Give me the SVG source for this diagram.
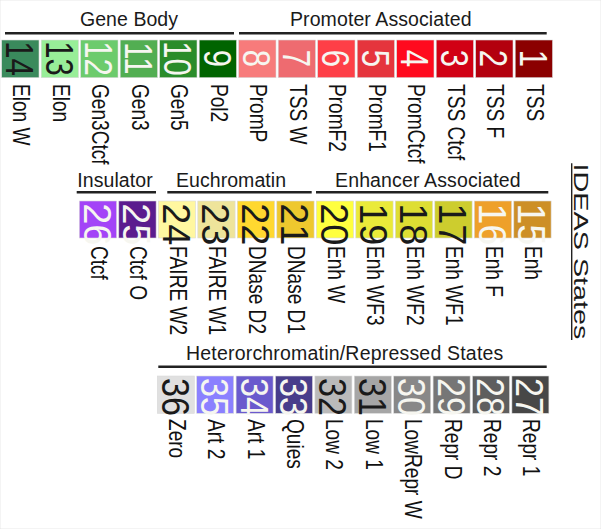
<svg xmlns="http://www.w3.org/2000/svg" width="601" height="529" viewBox="0 0 601 529">
<style>
text{font-family:"Liberation Sans",Arial,Helvetica,sans-serif}
.t{font-size:19.5px;fill:#1a1a1a}
.bar{stroke:#222;stroke-width:2.6;fill:none}
.n{font-size:38px;text-anchor:middle}
.l{font-size:23px;fill:#111}
.w{fill:#f6f6f0}
.k{fill:#1a1a1a}
rect{stroke:#d9d9d9;stroke-width:0.6}
</style>
<rect x="0" y="0" width="601" height="529" fill="#fff" stroke="none"/>
<g id="categories">
<g id="cat-gene-body"><text class="t" x="80" y="25.5" textLength="98">Gene Body</text><line class="bar" x1="5" y1="33.3" x2="234" y2="33.3"/></g>
<g id="cat-promoter"><text class="t" x="290" y="25.5" textLength="181.5">Promoter Associated</text><line class="bar" x1="239" y1="33.3" x2="546.7" y2="33.3"/></g>
<g id="cat-insulator"><text class="t" x="77.3" y="186.5" textLength="75.4">Insulator</text><line class="bar" x1="76.7" y1="192.3" x2="156" y2="192.3"/></g>
<g id="cat-euchromatin"><text class="t" x="176" y="186.5" textLength="110">Euchromatin</text><line class="bar" x1="167.3" y1="192.3" x2="311.7" y2="192.3"/></g>
<g id="cat-enhancer"><text class="t" x="335" y="186.5" textLength="185.7">Enhancer Associated</text><line class="bar" x1="316" y1="192.3" x2="548.3" y2="192.3"/></g>
<g id="cat-hetero"><text class="t" x="186" y="360" textLength="317.3">Heterorchromatin/Repressed States</text><line class="bar" x1="158.3" y1="366.7" x2="546.7" y2="366.7"/></g>
</g>
<g id="title-ideas">
<text class="t" transform="translate(574,163.5) rotate(90)" style="font-size:21px" textLength="176" lengthAdjust="spacingAndGlyphs">IDEAS States</text>
<line x1="571.7" y1="163.3" x2="571.7" y2="340" stroke="#222" stroke-width="1.4"/>
</g>
<g id="connectors"></g>
<!-- top row -->
<g id="s14"><rect x="1.7" y="40" width="37.3" height="37.7" fill="#3A8A5C"/><text class="n k" transform="translate(6.35,58.5) rotate(90) scale(0.82,1)">14</text><text class="l" transform="translate(13.35,84) rotate(90) scale(0.83,1)">Elon W</text></g>
<g id="s13"><rect x="41.2" y="40" width="37.3" height="37.7" fill="#98EE98"/><text class="n k" transform="translate(45.85,58.5) rotate(90) scale(0.82,1)">13</text><text class="l" transform="translate(52.85,84) rotate(90) scale(0.83,1)">Elon</text></g>
<g id="s12"><rect x="80.7" y="40" width="37.3" height="37.7" fill="#6CCB6C"/><text class="n w" transform="translate(85.35,58.5) rotate(90) scale(0.82,1)">12</text><text class="l" transform="translate(92.35,84) rotate(90) scale(0.83,1)">Gen3Ctcf</text></g>
<g id="s11"><rect x="120.2" y="40" width="37.3" height="37.7" fill="#52AE52"/><text class="n w" transform="translate(124.85,58.5) rotate(90) scale(0.82,1)">11</text><text class="l" transform="translate(131.85,84) rotate(90) scale(0.83,1)">Gen3</text></g>
<g id="s10"><rect x="159.7" y="40" width="37.3" height="37.7" fill="#2A8C2A"/><text class="n w" transform="translate(164.35,58.5) rotate(90) scale(0.82,1)">10</text><text class="l" transform="translate(171.35,84) rotate(90) scale(0.83,1)">Gen5</text></g>
<g id="s9"><rect x="199.2" y="40" width="37.3" height="37.7" fill="#006400"/><text class="n w" transform="translate(203.85,58.5) rotate(90) scale(0.82,1)">9</text><text class="l" transform="translate(210.85,84) rotate(90) scale(0.83,1)">Pol2</text></g>
<g id="s8"><rect x="238.7" y="40" width="37.3" height="37.7" fill="#F77B7B"/><text class="n w" transform="translate(243.35,58.5) rotate(90) scale(0.82,1)">8</text><text class="l" transform="translate(250.35,84) rotate(90) scale(0.83,1)">PromP</text></g>
<g id="s7"><rect x="278.2" y="40" width="37.3" height="37.7" fill="#EE6B70"/><text class="n w" transform="translate(282.85,58.5) rotate(90) scale(0.82,1)">7</text><text class="l" transform="translate(289.85,84) rotate(90) scale(0.83,1)">TSS W</text></g>
<g id="s6"><rect x="317.7" y="40" width="37.3" height="37.7" fill="#FE3F47"/><text class="n w" transform="translate(322.35,58.5) rotate(90) scale(0.82,1)">6</text><text class="l" transform="translate(329.35,84) rotate(90) scale(0.83,1)">PromF2</text></g>
<g id="s5"><rect x="357.2" y="40" width="37.3" height="37.7" fill="#E5353D"/><text class="n w" transform="translate(361.85,58.5) rotate(90) scale(0.82,1)">5</text><text class="l" transform="translate(368.85,84) rotate(90) scale(0.83,1)">PromF1</text></g>
<g id="s4"><rect x="396.7" y="40" width="37.3" height="37.7" fill="#FF0A1E"/><text class="n w" transform="translate(401.35,58.5) rotate(90) scale(0.82,1)">4</text><text class="l" transform="translate(408.35,84) rotate(90) scale(0.83,1)">PromCtcf</text></g>
<g id="s3"><rect x="436.2" y="40" width="37.3" height="37.7" fill="#D10014"/><text class="n w" transform="translate(440.85,58.5) rotate(90) scale(0.82,1)">3</text><text class="l" transform="translate(447.85,84) rotate(90) scale(0.83,1)">TSS Ctcf</text></g>
<g id="s2"><rect x="475.7" y="40" width="37.3" height="37.7" fill="#B3000E"/><text class="n w" transform="translate(480.35,58.5) rotate(90) scale(0.82,1)">2</text><text class="l" transform="translate(487.35,84) rotate(90) scale(0.83,1)">TSS F</text></g>
<g id="s1"><rect x="515.2" y="40" width="37.3" height="37.7" fill="#8B0000"/><text class="n w" transform="translate(519.85,58.5) rotate(90) scale(0.82,1)">1</text><text class="l" transform="translate(526.85,84) rotate(90) scale(0.83,1)">TSS</text></g>
<!-- middle row -->
<g id="s26"><rect x="79.3" y="201" width="37.3" height="37" fill="#A344F7"/><text class="n w" transform="translate(83.95,224.3) rotate(90)">26</text><text class="l" transform="translate(90.95,246) rotate(90) scale(0.83,1)">Ctcf</text></g>
<g id="s25"><rect x="118.8" y="201" width="37.3" height="37" fill="#5B1C8E"/><text class="n w" transform="translate(123.45,224.3) rotate(90)">25</text><text class="l" transform="translate(130.45,246) rotate(90) scale(0.83,1)">Ctcf O</text></g>
<g id="s24"><rect x="158.3" y="201" width="37.3" height="37" fill="#FFF7A0"/><text class="n k" transform="translate(162.95,224.3) rotate(90)">24</text><text class="l" transform="translate(169.95,246) rotate(90) scale(0.83,1)">FAIRE W2</text></g>
<g id="s23"><rect x="197.8" y="201" width="37.3" height="37" fill="#EEE49B"/><text class="n k" transform="translate(202.45,224.3) rotate(90)">23</text><text class="l" transform="translate(209.45,246) rotate(90) scale(0.83,1)">FAIRE W1</text></g>
<g id="s22"><rect x="237.3" y="201" width="37.3" height="37" fill="#FFD830"/><text class="n k" transform="translate(241.95,224.3) rotate(90)">22</text><text class="l" transform="translate(248.95,246) rotate(90) scale(0.83,1)">DNase D2</text></g>
<g id="s21"><rect x="276.8" y="201" width="37.3" height="37" fill="#EEC82E"/><text class="n k" transform="translate(281.45,224.3) rotate(90)">21</text><text class="l" transform="translate(288.45,246) rotate(90) scale(0.83,1)">DNase D1</text></g>
<g id="s20"><rect x="316.3" y="201" width="37.3" height="37" fill="#FFFF40"/><text class="n k" transform="translate(320.95,224.3) rotate(90)">20</text><text class="l" transform="translate(327.95,246) rotate(90) scale(0.83,1)">Enh W</text></g>
<g id="s19"><rect x="355.8" y="201" width="37.3" height="37" fill="#EAEA3A"/><text class="n k" transform="translate(360.45,224.3) rotate(90)">19</text><text class="l" transform="translate(367.45,246) rotate(90) scale(0.83,1)">Enh WF3</text></g>
<g id="s18"><rect x="395.3" y="201" width="37.3" height="37" fill="#DEDE34"/><text class="n k" transform="translate(399.95,224.3) rotate(90)">18</text><text class="l" transform="translate(406.95,246) rotate(90) scale(0.83,1)">Enh WF2</text></g>
<g id="s17"><rect x="434.8" y="201" width="37.3" height="37" fill="#CDCD2E"/><text class="n k" transform="translate(439.45,224.3) rotate(90)">17</text><text class="l" transform="translate(446.45,246) rotate(90) scale(0.83,1)">Enh WF1</text></g>
<g id="s16"><rect x="474.3" y="201" width="37.3" height="37" fill="#EEA02A"/><text class="n w" transform="translate(478.95,224.3) rotate(90)">16</text><text class="l" transform="translate(485.95,246) rotate(90) scale(0.83,1)">Enh F</text></g>
<g id="s15"><rect x="513.8" y="201" width="37.3" height="37" fill="#CD8F26"/><text class="n w" transform="translate(518.45,224.3) rotate(90)">15</text><text class="l" transform="translate(525.45,246) rotate(90) scale(0.83,1)">Enh</text></g>
<!-- bottom row -->
<g id="s36"><rect x="157.3" y="376" width="37" height="37.3" fill="#E0E0E0"/><text class="n k" transform="translate(161.8,397) rotate(90) scale(0.9,1)">36</text><text class="l" transform="translate(168.8,419) rotate(90) scale(0.83,1)">Zero</text></g>
<g id="s35"><rect x="196.7" y="376" width="37" height="37.3" fill="#8B80FF"/><text class="n w" transform="translate(201.2,397) rotate(90) scale(0.9,1)">35</text><text class="l" transform="translate(208.2,419) rotate(90) scale(0.83,1)">Art 2</text></g>
<g id="s34"><rect x="236.1" y="376" width="37" height="37.3" fill="#6A5ACD"/><text class="n w" transform="translate(240.6,397) rotate(90) scale(0.9,1)">34</text><text class="l" transform="translate(247.6,419) rotate(90) scale(0.83,1)">Art 1</text></g>
<g id="s33"><rect x="275.5" y="376" width="37" height="37.3" fill="#483D8B"/><text class="n w" transform="translate(280,397) rotate(90) scale(0.9,1)">33</text><text class="l" transform="translate(287,419) rotate(90) scale(0.83,1)">Quies</text></g>
<g id="s32"><rect x="314.9" y="376" width="37" height="37.3" fill="#BABABA"/><text class="n k" transform="translate(319.4,397) rotate(90) scale(0.9,1)">32</text><text class="l" transform="translate(326.4,419) rotate(90) scale(0.83,1)">Low 2</text></g>
<g id="s31"><rect x="354.3" y="376" width="37" height="37.3" fill="#A6A6A6"/><text class="n k" transform="translate(358.8,397) rotate(90) scale(0.9,1)">31</text><text class="l" transform="translate(365.8,419) rotate(90) scale(0.83,1)">Low 1</text></g>
<g id="s30"><rect x="393.7" y="376" width="37" height="37.3" fill="#888888"/><text class="n w" transform="translate(398.2,397) rotate(90) scale(0.9,1)">30</text><text class="l" transform="translate(405.2,419) rotate(90) scale(0.83,1)">LowRepr W</text></g>
<g id="s29"><rect x="433.1" y="376" width="37" height="37.3" fill="#767676"/><text class="n w" transform="translate(437.6,397) rotate(90) scale(0.9,1)">29</text><text class="l" transform="translate(444.6,419) rotate(90) scale(0.83,1)">Repr D</text></g>
<g id="s28"><rect x="472.5" y="376" width="37" height="37.3" fill="#5E5E5E"/><text class="n w" transform="translate(477,397) rotate(90) scale(0.9,1)">28</text><text class="l" transform="translate(484,419) rotate(90) scale(0.83,1)">Repr 2</text></g>
<g id="s27"><rect x="511.9" y="376" width="37" height="37.3" fill="#474747"/><text class="n w" transform="translate(516.4,397) rotate(90) scale(0.9,1)">27</text><text class="l" transform="translate(523.4,419) rotate(90) scale(0.83,1)">Repr 1</text></g>
</svg>
